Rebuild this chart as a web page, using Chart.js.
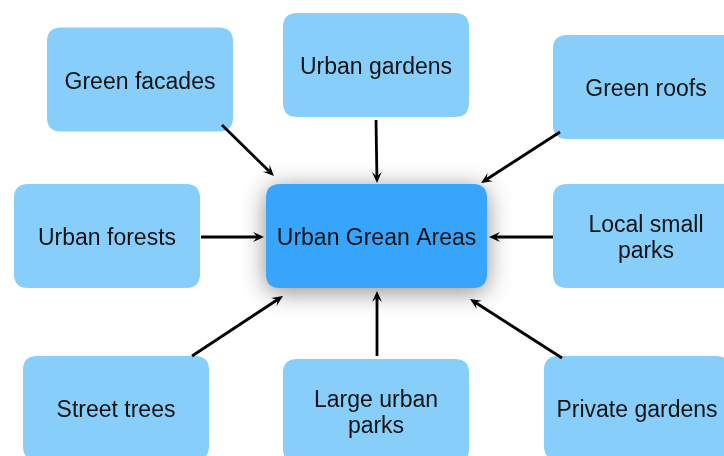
<!DOCTYPE html>
<html>
<head>
<meta charset="utf-8">
<script src="https://cdn.jsdelivr.net/npm/chart.js@4"></script>
<style>
  body { margin: 0; background: #ffffff; }
  canvas { display: block; }
</style>
</head>
<body>
<canvas id="myChart" width="724" height="456"></canvas>
<script>
// Diagram data: node labels and centres (in page units 0..724 / 0..456)
const nodeLabels = ['Green facades', 'Urban gardens', 'Green roofs', 'Urban forests', 'Urban Grean Areas',
  'Local small\nparks', 'Street trees', 'Large urban\nparks', 'Private gardens'];
const nodeX = [140, 376, 646, 107, 376.5, 646, 116, 376, 637];
const nodeY = [79.5, 65, 87, 236, 236, 236, 408, 411, 408];

// Arrows: start and end points
const arrowFromX = [222, 376, 560, 201, 553, 192, 377, 562];
const arrowFromY = [125, 120, 132, 237, 237, 356, 356, 358];
const arrowToX = [274, 377, 481, 264, 489, 283, 377, 470];
const arrowToY = [176, 183, 183, 237, 237, 296, 291, 299];

const centreIndex = 4;

function roundRect(ctx, x, y, w, h, r) {
  ctx.beginPath();
  ctx.moveTo(x + r, y);
  ctx.lineTo(x + w - r, y);
  ctx.quadraticCurveTo(x + w, y, x + w, y + r);
  ctx.lineTo(x + w, y + h - r);
  ctx.quadraticCurveTo(x + w, y + h, x + w - r, y + h);
  ctx.lineTo(x + r, y + h);
  ctx.quadraticCurveTo(x, y + h, x, y + h - r);
  ctx.lineTo(x, y + r);
  ctx.quadraticCurveTo(x, y, x + r, y);
  ctx.closePath();
}

// Plugin that draws the boxes and arrows from the data through the scales
const diagramPlugin = {
  id: 'diagram',
  afterDatasetsDraw(chart) {
    const ctx = chart.ctx;
    const xs = chart.scales.x;
    const ys = chart.scales.y;
    ctx.save();

    // boxes
    nodeLabels.forEach((label, i) => {
      const cx = xs.getPixelForValue(nodeX[i]);
      const cy = ys.getPixelForValue(nodeY[i]);
      const w = i === centreIndex ? 221 : 186;
      const h = 104;
      ctx.save();
      if (i === centreIndex) {
        ctx.shadowColor = 'rgba(0,0,0,0.45)';
        ctx.shadowBlur = 24;
        ctx.shadowOffsetX = 0;
        ctx.shadowOffsetY = 4;
        ctx.fillStyle = '#38a5fd';
      } else {
        ctx.fillStyle = '#87cffa';
      }
      roundRect(ctx, cx - w / 2, cy - h / 2, w, h, 14);
      ctx.fill();
      ctx.restore();

      ctx.fillStyle = '#111111';
      ctx.font = '23px Arial, "Liberation Sans", sans-serif';
      ctx.textAlign = 'center';
      ctx.textBaseline = 'middle';
      const lines = label.split('\n');
      const lh = 26;
      lines.forEach((ln, k) => {
        ctx.fillText(ln, cx, cy + (k - (lines.length - 1) / 2) * lh + 3);
      });
    });

    // arrows
    ctx.strokeStyle = '#000';
    ctx.fillStyle = '#000';
    ctx.lineWidth = 2.8;
    arrowFromX.forEach((fx, i) => {
      const x1 = xs.getPixelForValue(fx);
      const y1 = ys.getPixelForValue(arrowFromY[i]);
      const x2 = xs.getPixelForValue(arrowToX[i]);
      const y2 = ys.getPixelForValue(arrowToY[i]);
      const a = Math.atan2(y2 - y1, x2 - x1);
      const head = 12;
      ctx.beginPath();
      ctx.moveTo(x1, y1);
      ctx.lineTo(x2 - Math.cos(a) * 5, y2 - Math.sin(a) * 5);
      ctx.stroke();
      ctx.beginPath();
      ctx.moveTo(x2, y2);
      ctx.lineTo(x2 - head * Math.cos(a - 0.42), y2 - head * Math.sin(a - 0.42));
      ctx.lineTo(x2 - head * 0.55 * Math.cos(a), y2 - head * 0.55 * Math.sin(a));
      ctx.lineTo(x2 - head * Math.cos(a + 0.42), y2 - head * Math.sin(a + 0.42));
      ctx.closePath();
      ctx.fill();
    });
    ctx.restore();
  }
};

new Chart(document.getElementById('myChart'), {
  type: 'scatter',
  data: {
    datasets: [{
      label: 'nodes',
      data: nodeX.map((x, i) => ({ x: x, y: nodeY[i] })),
      pointRadius: 0,
      pointHoverRadius: 0
    }]
  },
  options: {
    responsive: false,
    animation: false,
    layout: { padding: 0 },
    plugins: { legend: { display: false }, tooltip: { enabled: false } },
    scales: {
      x: { type: 'linear', min: 0, max: 724, display: false },
      y: { type: 'linear', min: 0, max: 456, reverse: true, display: false }
    }
  },
  plugins: [diagramPlugin]
});
</script>
</body>
</html>
